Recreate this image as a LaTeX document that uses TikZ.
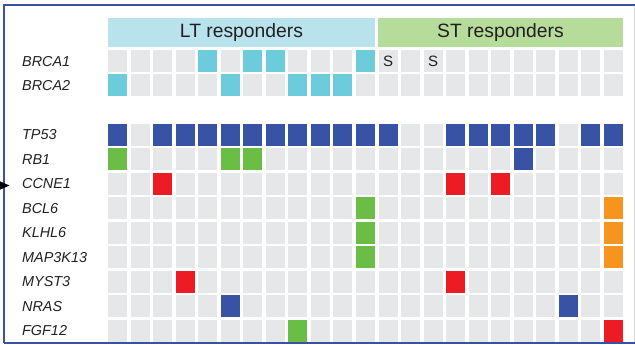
\documentclass[tikz,border=0pt]{standalone}
\usepackage{fontspec}
\setmainfont{Liberation Sans}
\usetikzlibrary{arrows.meta}
\definecolor{cgray}{HTML}{E6E7E8}
\definecolor{hlt}{HTML}{B9E3EC}
\definecolor{hst}{HTML}{B5DC9B}
\definecolor{ccyan}{HTML}{6CCCDC}
\definecolor{cblue}{HTML}{3953A4}
\definecolor{cgreen}{HTML}{6ABD45}
\definecolor{cred}{HTML}{ED1C24}
\definecolor{corange}{HTML}{F7941D}
\definecolor{ctext}{HTML}{231F20}
\definecolor{cframe}{HTML}{3953A4}
\begin{document}
\begin{tikzpicture}[x=1pt,y=-1pt,
  cell/.style={rectangle,minimum width=19pt,minimum height=22pt,inner sep=0pt,outer sep=0pt,anchor=north west,fill=cgray,draw=none},
  hdr/.style={rectangle,inner sep=0pt,outer sep=0pt,draw=none,anchor=north west,minimum height=28.7pt,text=ctext,font=\fontsize{19.3}{21}\selectfont},
  lab/.style={anchor=base west,inner sep=0pt,text=ctext,font=\fontsize{14.4}{16}\selectfont\itshape},
  smark/.style={inner sep=0pt,text=ctext,font=\fontsize{15}{16}\selectfont},
  frameline/.style={draw=cframe,line width=2pt},
  pointer/.style={-{Triangle[length=9.5pt,width=8pt]},line width=1pt,draw=black}]
\useasboundingbox (0,0) rectangle (635,345);
% headers
\node[hdr,fill=hlt,minimum width=267pt] (hlt) at (108,18) {LT responders};
\node[hdr,fill=hst,minimum width=245pt] (hst) at (378,18) {ST responders};
% gray grid
\foreach \i in {0,1,3,4,5,6,7,8,9,10,11}{
  \foreach \c in {0,...,22}{
    \node[cell] (g\i-\c) at ({108+\c*22.545},{50+\i*24.5}) {};
  }
}
% coloured cells
\foreach \i/\c/\col in {
  0/4/ccyan,0/6/ccyan,0/7/ccyan,0/11/ccyan,
  1/0/ccyan,1/5/ccyan,1/8/ccyan,1/9/ccyan,1/10/ccyan,
  3/0/cblue,3/2/cblue,3/3/cblue,3/4/cblue,3/5/cblue,3/6/cblue,3/7/cblue,3/8/cblue,3/9/cblue,3/10/cblue,3/11/cblue,3/12/cblue,
  3/15/cblue,3/16/cblue,3/17/cblue,3/18/cblue,3/19/cblue,3/21/cblue,3/22/cblue,
  4/0/cgreen,4/5/cgreen,4/6/cgreen,4/18/cblue,
  5/2/cred,5/15/cred,5/17/cred,
  6/11/cgreen,6/22/corange,
  7/11/cgreen,7/22/corange,
  8/11/cgreen,8/22/corange,
  9/3/cred,9/15/cred,
  10/5/cblue,10/20/cblue,
  11/8/cgreen,11/22/cred}{
  \node[cell,fill=\col] (m\i-\c) at ({108+\c*22.545},{50+\i*24.5}) {};
}
% S marks
\node[smark] (s12) at (g0-12) {S};
\node[smark] (s14) at (g0-14) {S};
% labels
\foreach \i/\t in {0/BRCA1,1/BRCA2,3/TP53,4/RB1,5/CCNE1,6/BCL6,7/KLHL6,8/MAP3K13,9/MYST3,10/NRAS,11/FGF12}{
  \node[lab] (l\i) at (22,{50+\i*24.5+11+5.2}) {\t};
}
% frame
\draw[frameline] (4,343) -- (4,5.5) -- (635,5.5);
\draw[frameline] (4,343) -- (635,343);
\draw[draw=black!15,line width=0.8pt] (634,6.5) -- (634,342);
% pointer arrow
\coordinate (astart) at (0,185.5);
\coordinate (atip) at (9.5,185.5);
\draw[pointer] (astart) -- (atip);
\end{tikzpicture}
\end{document}
